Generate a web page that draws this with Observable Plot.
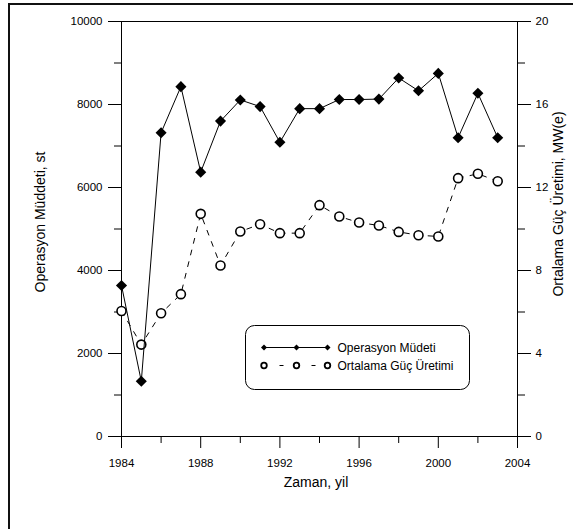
<!DOCTYPE html>
<html><head><meta charset="utf-8">
<script src="https://cdn.jsdelivr.net/npm/d3@7"></script>
<script src="https://cdn.jsdelivr.net/npm/@observablehq/plot@0.6"></script>
<style>
body{margin:0;background:#fff;}
#wrap{position:relative;width:573px;height:529px;overflow:hidden;background:#fff;}
#frame{position:absolute;left:8px;top:3px;width:600px;height:600px;border-left:2px solid #111;border-top:2px solid #111;}
#wrap svg{position:absolute;left:0;top:0;}
</style></head><body><div id="wrap"><div id="frame"></div></div>
<script>
const years = [1984,1985,1986,1987,1988,1989,1990,1991,1992,1993,1994,1995,1996,1997,1998,1999,2000,2001,2002,2003];
const operasyon = [3640,1330,7320,8430,6370,7600,8110,7950,7090,7900,7900,8120,8120,8130,8640,8330,8750,7200,8270,7200];
const guc = [6.05,4.43,5.94,6.86,10.73,8.24,9.88,10.23,9.80,9.80,11.15,10.60,10.31,10.17,9.86,9.70,9.64,12.45,12.66,12.30];
const xTicks = [1984,1988,1992,1996,2000,2004];
const xMinor = [1986,1990,1994,1998,2002];
const yTicks = [0,2000,4000,6000,8000,10000];
const yMinor = [1000,3000,5000,7000,9000];
const rTicks = [0,4,8,12,16,20];
const rMinor = [2,6,10,14,18];
const xLabel = "Zaman, yil";
const yLeftLabel = "Operasyon Müddeti, st";
const yRightLabel = "Ortalama Güç Üretimi, MW(e)";
const series1 = "Operasyon Müdeti";
const series2 = "Ortalama Güç Üretimi";

const K = 10000 / 20; // right axis (0-20) mapped onto left axis (0-10000)
const data = years.map((y, i) => ({year: y, op: operasyon[i], g: guc[i] * K}));

const font = "'Liberation Sans', Arial, sans-serif";
const chart = Plot.plot({
  width: 573, height: 529,
  marginLeft: 121, marginRight: 56, marginTop: 21, marginBottom: 93,
  style: {fontFamily: font, fontSize: "11.5px", color: "#000", background: "transparent", overflow: "visible"},
  x: {domain: [1984, 2004]},
  y: {domain: [0, 10000]},
  marks: [
    Plot.axisX({ticks: xTicks, tickSize: 12, tickPadding: 10, tickFormat: d => String(d), label: null, stroke: "#000"}),
    Plot.axisX({ticks: xMinor, tickSize: 7, tickFormat: () => "", label: null, stroke: "#000"}),
    Plot.axisY({anchor: "left", ticks: yTicks, tickSize: 13, tickPadding: 6, tickFormat: d => String(d), label: null, stroke: "#000"}),
    Plot.axisY({anchor: "left", ticks: yMinor, tickSize: 7, tickFormat: () => "", label: null, stroke: "#000"}),
    Plot.axisY({anchor: "right", ticks: rTicks.map(v => v * K), tickSize: 13, tickPadding: 5, tickFormat: d => String(d / K), label: null, stroke: "#000"}),
    Plot.axisY({anchor: "right", ticks: rMinor.map(v => v * K), tickSize: 7, tickFormat: () => "", label: null, stroke: "#000"}),
    Plot.frame({stroke: "#000"}),
    Plot.line(data, {x: "year", y: "g", stroke: "#000", strokeWidth: 1, strokeDasharray: "5,7"}),
    Plot.dot(data, {x: "year", y: "g", r: 4.5, stroke: "#000", fill: "#fff", strokeWidth: 1.6}),
    Plot.line(data, {x: "year", y: "op", stroke: "#000", strokeWidth: 1}),
    Plot.dot(data, {x: "year", y: "op", symbol: "diamond2", r: 5, fill: "#000", stroke: "none"})
  ]
});
document.getElementById("wrap").appendChild(chart);

const svg = d3.select(chart);
// axis titles
svg.append("text").attr("x", 316).attr("y", 486.5).attr("text-anchor", "middle")
  .attr("font-family", font).attr("font-size", 14).attr("fill", "#000").text(xLabel);
svg.append("text").attr("transform", "translate(40,222) rotate(-90)").attr("text-anchor", "middle")
  .attr("dominant-baseline", "central").attr("font-family", font).attr("font-size", 14).attr("fill", "#000").text(yLeftLabel);
svg.append("text").attr("transform", "translate(558,204) rotate(-90)").attr("text-anchor", "middle")
  .attr("dominant-baseline", "central").attr("font-family", font).attr("font-size", 14).attr("fill", "#000").text(yRightLabel);

// legend
const lg = svg.append("g").attr("text-anchor", "start");
lg.append("rect").attr("x", 245.5).attr("y", 325.5).attr("width", 224).attr("height", 64).attr("rx", 9)
  .attr("fill", "#fff").attr("stroke", "#000");
const sx = [264, 296.5, 327.5];
const r1 = 347.5, r2 = 365.5;
lg.append("line").attr("x1", sx[0]).attr("x2", sx[2]).attr("y1", r1).attr("y2", r1).attr("stroke", "#000");
const dia = d3.symbol(d3.symbolDiamond2, 23)();
sx.forEach(x => lg.append("path").attr("d", dia).attr("transform", `translate(${x},${r1})`).attr("fill", "#000"));
[[279.5, 283.5], [311.5, 315.5]].forEach(([a, b]) => lg.append("line").attr("x1", a).attr("x2", b).attr("y1", r2).attr("y2", r2).attr("stroke", "#000"));
sx.forEach(x => lg.append("circle").attr("cx", x).attr("cy", r2).attr("r", 2.8).attr("fill", "#fff").attr("stroke", "#000").attr("stroke-width", 1.8));
lg.append("text").attr("x", 337.5).attr("y", r1).attr("text-anchor", "start").attr("dominant-baseline", "central").attr("font-family", font).attr("font-size", 12).attr("fill", "#000").text(series1);
lg.append("text").attr("x", 337.5).attr("y", r2).attr("text-anchor", "start").attr("dominant-baseline", "central").attr("font-family", font).attr("font-size", 12).attr("fill", "#000").text(series2);
</script></body></html>
